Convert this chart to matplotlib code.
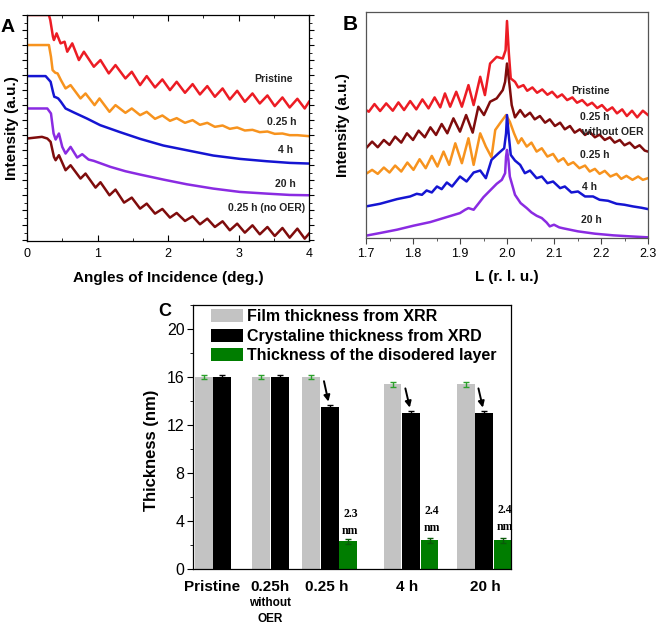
import matplotlib
matplotlib.use('Agg')
import matplotlib.pyplot as plt
from matplotlib.ticker import MultipleLocator, FixedLocator, FormatStrFormatter
from matplotlib.patches import Patch
import numpy as np

plt.rcParams['font.family'] = ['Liberation Sans', 'DejaVu Sans']

# ---------------- Panel A data (angle in deg, intensity in a.u., offset curves) -------------
a_pristine_x = [0, 0.311, 0.330, 0.368, 0.382, 0.420, 0.476, 0.533, 0.571, 0.642,
                0.736, 0.807, 0.948, 1.042, 1.160, 1.255, 1.396, 1.486, 1.604, 1.698,
                1.816, 1.920, 2.028, 2.123, 2.241, 2.349, 2.453, 2.557, 2.665, 2.774,
                2.877, 2.981, 3.090, 3.198, 3.302, 3.410, 3.514, 3.623, 3.726, 3.835,
                3.939, 4.000]
a_pristine_y = [677, 677, 662, 612, 602, 622, 592, 597, 567, 592,
                542, 567, 522, 542, 502, 527, 487, 507, 467, 494,
                460, 484, 452, 477, 444, 470, 439, 464, 432, 457,
                424, 450, 417, 442, 412, 436, 404, 430, 400, 426,
                397, 417]

a_025_x = [0, 0.311, 0.340, 0.363, 0.401, 0.434, 0.481, 0.547, 0.618, 0.759,
           0.830, 0.958, 1.028, 1.170, 1.255, 1.396, 1.486, 1.604, 1.698, 1.816,
           1.920, 2.028, 2.123, 2.241, 2.349, 2.453, 2.557, 2.665, 2.774, 2.877,
           2.981, 3.090, 3.198, 3.302, 3.410, 3.514, 3.623, 3.726, 3.835, 4.000]
a_025_y = [587, 587, 552, 512, 504, 502, 482, 457, 467, 427,
           442, 407, 427, 387, 407, 384, 397, 377, 387, 366,
           376, 360, 368, 354, 362, 348, 354, 342, 346, 336,
           340, 331, 333, 326, 328, 321, 322, 317, 317, 314]

a_4h_x = [0, 0.264, 0.335, 0.368, 0.387, 0.415, 0.443, 0.481, 0.547, 0.665,
          0.849, 1.038, 1.321, 1.604, 1.934, 2.264, 2.642, 3.019, 3.396, 3.726, 4.000]
a_4h_y = [494, 494, 477, 447, 432, 430, 427, 417, 397, 385,
          367, 347, 326, 306, 286, 272, 256, 246, 239, 234, 232]

a_20h_x = [0, 0.288, 0.340, 0.377, 0.406, 0.453, 0.500, 0.547, 0.618, 0.712,
           0.783, 0.873, 0.948, 1.184, 1.396, 1.604, 1.934, 2.264, 2.642, 3.019,
           3.396, 3.726, 4.000]
a_20h_y = [397, 397, 382, 322, 304, 322, 282, 262, 282, 250,
           260, 244, 240, 222, 209, 199, 184, 170, 157, 147,
           142, 138, 137]

a_noOER_x = [0, 0.212, 0.288, 0.335, 0.382, 0.406, 0.453, 0.547, 0.618, 0.759,
             0.830, 0.972, 1.042, 1.170, 1.255, 1.377, 1.486, 1.604, 1.698, 1.816,
             1.920, 2.028, 2.123, 2.241, 2.349, 2.453, 2.557, 2.665, 2.774, 2.877,
             2.981, 3.090, 3.198, 3.302, 3.410, 3.514, 3.623, 3.726, 3.835, 3.939,
             4.000]
a_noOER_y = [307, 312, 307, 297, 252, 242, 257, 212, 227, 187,
             202, 160, 176, 137, 154, 115, 130, 97, 112, 82,
             96, 70, 84, 60, 74, 50, 67, 42, 59, 32,
             52, 25, 47, 20, 42, 15, 39, 10, 37, 7,
             22]

a_labels = ['Pristine', '0.25 h', '4 h', '20 h', '0.25 h (no OER)']
a_label_x = [3.50, 3.62, 3.67, 3.66, 3.40]
a_label_y = [485, 357, 274, 172, 100]

# ---------------- Panel B data (L in r.l.u., intensity in a.u., offset curves) -------------
b_pristine_x = [1.700, 1.706, 1.718, 1.730, 1.743, 1.757, 1.769, 1.781, 1.794, 1.807,
                1.820, 1.833, 1.846, 1.858, 1.868, 1.879, 1.892, 1.904, 1.918, 1.929,
                1.943, 1.953, 1.964, 1.978, 1.991, 1.997, 2.000, 2.004, 2.008, 2.017,
                2.024, 2.035, 2.043, 2.054, 2.064, 2.075, 2.086, 2.096, 2.107, 2.117,
                2.128, 2.139, 2.149, 2.160, 2.171, 2.181, 2.192, 2.202, 2.213, 2.224,
                2.234, 2.245, 2.255, 2.266, 2.277, 2.289, 2.300]
b_pristine_y = [385, 380, 403, 382, 405, 383, 408, 385, 412, 387,
                417, 390, 423, 393, 435, 395, 440, 395, 460, 400,
                485, 430, 525, 545, 540, 565, 653, 555, 480, 470,
                453, 460, 443, 453, 437, 447, 431, 440, 423, 432,
                415, 423, 407, 415, 399, 407, 391, 400, 383, 393,
                375, 387, 367, 383, 363, 383, 370]

b_noOER_x = [1.700, 1.713, 1.725, 1.738, 1.750, 1.762, 1.775, 1.787, 1.800, 1.812,
             1.825, 1.837, 1.849, 1.861, 1.873, 1.886, 1.900, 1.913, 1.927, 1.939,
             1.951, 1.964, 1.978, 1.991, 1.996, 2.000, 2.005, 2.010, 2.017, 2.028,
             2.038, 2.049, 2.059, 2.070, 2.081, 2.091, 2.102, 2.113, 2.123, 2.134,
             2.144, 2.155, 2.166, 2.176, 2.187, 2.197, 2.208, 2.219, 2.229, 2.240,
             2.250, 2.261, 2.272, 2.282, 2.293, 2.300]
b_noOER_y = [270, 290, 273, 295, 280, 305, 287, 315, 295, 323,
             303, 333, 310, 343, 315, 360, 320, 370, 317, 395,
             370, 410, 420, 445, 470, 525, 465, 400, 363, 385,
             365, 377, 357, 367, 347, 357, 337, 347, 327, 337,
             317, 327, 310, 319, 303, 311, 295, 303, 287, 295,
             279, 287, 271, 279, 263, 260]

b_025_x = [1.700, 1.713, 1.725, 1.738, 1.750, 1.762, 1.775, 1.788, 1.801, 1.814,
           1.827, 1.840, 1.852, 1.865, 1.877, 1.890, 1.904, 1.918, 1.929, 1.943,
           1.955, 1.967, 1.975, 1.985, 1.998, 2.006, 2.015, 2.024, 2.031, 2.042,
           2.052, 2.063, 2.074, 2.086, 2.098, 2.109, 2.120, 2.130, 2.141, 2.154,
           2.166, 2.176, 2.187, 2.197, 2.208, 2.220, 2.233, 2.243, 2.254, 2.267,
           2.279, 2.289, 2.300]
b_025_y = [193, 205, 193, 212, 197, 218, 200, 227, 205, 237,
           210, 247, 215, 260, 220, 285, 225, 300, 220, 315,
           275, 243, 325, 345, 370, 350, 315, 285, 300, 275,
           287, 260, 270, 245, 253, 230, 240, 220, 228, 210,
           218, 200, 208, 193, 202, 185, 193, 178, 187, 175,
           185, 175, 180]

b_4h_x = [1.700, 1.730, 1.766, 1.794, 1.808, 1.819, 1.829, 1.840, 1.851, 1.861,
          1.872, 1.883, 1.900, 1.914, 1.929, 1.943, 1.955, 1.967, 1.982, 1.994,
          1.998, 2.000, 2.004, 2.008, 2.017, 2.028, 2.038, 2.049, 2.063, 2.074,
          2.086, 2.098, 2.113, 2.123, 2.137, 2.151, 2.166, 2.183, 2.197, 2.215,
          2.233, 2.250, 2.268, 2.286, 2.300]
b_4h_y = [95, 103, 117, 125, 133, 130, 143, 137, 155, 147,
          167, 155, 185, 170, 197, 203, 180, 235, 255, 270,
          315, 370, 305, 250, 233, 220, 195, 203, 180, 185,
          165, 170, 150, 155, 137, 140, 125, 125, 115, 112,
          103, 100, 95, 91, 87]

b_20h_x = [1.700, 1.730, 1.766, 1.801, 1.837, 1.865, 1.900, 1.911, 1.918, 1.929,
           1.939, 1.950, 1.964, 1.978, 1.989, 1.996, 1.998, 2.000, 2.003, 2.006,
           2.017, 2.029, 2.042, 2.052, 2.063, 2.074, 2.084, 2.091, 2.100, 2.111,
           2.120, 2.151, 2.187, 2.226, 2.261, 2.300]
b_20h_y = [7, 15, 25, 37, 48, 60, 75, 85, 90, 85,
           103, 123, 143, 163, 175, 195, 245, 265, 235, 185,
           130, 105, 90, 77, 67, 60, 47, 35, 40, 32,
           29, 20, 13, 8, 5, 2]

b_labels = ['Pristine', '0.25 h', 'without OER', '0.25 h', '4 h', '20 h']
b_label_x = [2.178, 2.187, 2.225, 2.187, 2.176, 2.180]
b_label_y = [442, 364, 319, 250, 154, 55]

# ---------------- Panel C data ----------------
c_groups = ['Pristine', '0.25h', '0.25 h', '4 h', '20 h']
xrr_thick = [16.0, 16.0, 16.0, 15.4, 15.4]
xrd_thick = [16.0, 16.0, 13.5, 13.0, 13.0]
dis_thick = [np.nan, np.nan, 2.3, 2.4, 2.4]
xrr_err = [0.2, 0.2, 0.2, 0.2, 0.2]
xrd_err = [0.2, 0.2, 0.2, 0.2, 0.2]
dis_err = [0.0, 0.0, 0.2, 0.2, 0.2]
dis_text = ['', '', '2.3', '2.4', '2.4']
group_left = [0.1, 3.2, 5.9, 10.3, 14.25]
label_x = [1.03, 4.16, 7.24, 11.57, 15.78]

# ---------------- colours ----------------
RED = '#ec1c24'
ORANGE = '#f7931e'
BLUE = '#1515d2'
PURPLE = '#8a2be2'
DRED = '#7f0c0c'

W, H = 659, 627
fig = plt.figure(figsize=(W / 100, H / 100), dpi=100)


def px_axes(l, t, r, b):
    return fig.add_axes([l / W, 1 - b / H, (r - l) / W, (b - t) / H])


axA = px_axes(27, 15, 309, 241)
axB = px_axes(366, 12, 648, 238)
axC = px_axes(193, 305, 511, 569)

# ---------------- Panel A ----------------
lw = 1.8
axA.plot(a_pristine_x, a_pristine_y, color=RED, lw=lw)
axA.plot(a_025_x, a_025_y, color=ORANGE, lw=lw)
axA.plot(a_4h_x, a_4h_y, color=BLUE, lw=lw)
axA.plot(a_20h_x, a_20h_y, color=PURPLE, lw=lw)
axA.plot(a_noOER_x, a_noOER_y, color=DRED, lw=lw)
for t, x, y in zip(a_labels, a_label_x, a_label_y):
    axA.text(x, y, t, fontsize=7.5, fontweight='bold', ha='center', va='center', color='#222222')
axA.set_xlim(0, 4)
axA.set_ylim(0, 677)
axA.xaxis.set_major_locator(MultipleLocator(1))
axA.xaxis.set_minor_locator(MultipleLocator(0.5))
axA.yaxis.set_major_locator(FixedLocator(np.arange(677, 0, -45)))
axA.yaxis.set_minor_locator(FixedLocator(np.arange(654.5, 0, -45)))
axA.tick_params(axis='x', which='both', direction='in', top=True, labelsize=9, pad=5)
axA.tick_params(axis='x', which='major', length=4)
axA.tick_params(axis='x', which='minor', length=2.5)
axA.tick_params(axis='y', which='both', direction='out', left=True, right=True, labelleft=False)
axA.tick_params(axis='y', which='major', length=3.5)
axA.tick_params(axis='y', which='minor', length=2)
for s in axA.spines.values():
    s.set_linewidth(0.9)
axA.set_xlabel('Angles of Incidence (deg.)', fontsize=11, fontweight='bold')
axA.xaxis.set_label_coords(0.5, -0.164)
axA.xaxis.label.set_va('center')
axA.set_ylabel('Intensity (a.u.)', fontsize=11, fontweight='bold')
axA.yaxis.set_label_coords(-0.053, 0.5)
axA.yaxis.label.set_va('center')

# ---------------- Panel B ----------------
axB.plot(b_pristine_x, b_pristine_y, color=RED, lw=lw)
axB.plot(b_noOER_x, b_noOER_y, color=DRED, lw=lw)
axB.plot(b_025_x, b_025_y, color=ORANGE, lw=lw)
axB.plot(b_4h_x, b_4h_y, color=BLUE, lw=lw)
axB.plot(b_20h_x, b_20h_y, color=PURPLE, lw=lw)
for t, x, y in zip(b_labels, b_label_x, b_label_y):
    axB.text(x, y, t, fontsize=7.5, fontweight='bold', ha='center', va='center', color='#222222')
axB.set_xlim(1.7, 2.3)
axB.set_ylim(0, 680)
axB.xaxis.set_major_locator(MultipleLocator(0.1))
axB.xaxis.set_minor_locator(MultipleLocator(0.05))
axB.xaxis.set_major_formatter(FormatStrFormatter('%.1f'))
axB.set_yticks([])
axB.tick_params(axis='x', which='both', direction='out', labelsize=9, pad=3, color='#444444')
axB.tick_params(axis='x', which='major', length=4)
axB.tick_params(axis='x', which='minor', length=2.5)
for s in axB.spines.values():
    s.set_linewidth(0.9)
    s.set_color('#555555')
axB.set_xlabel('L (r. l. u.)', fontsize=11, fontweight='bold')
axB.xaxis.set_label_coords(0.5, -0.173)
axB.xaxis.label.set_va('center')
axB.set_ylabel('Intensity (a.u.)', fontsize=11, fontweight='bold')
axB.yaxis.set_label_coords(-0.081, 0.5)
axB.yaxis.label.set_va('center')

# ---------------- Panel C ----------------
bw = 0.97
gl = np.array(group_left)
axC.bar(gl, xrr_thick, width=bw, align='edge', color='#c3c3c3', zorder=2)
axC.bar(gl + 1, xrd_thick, width=bw, align='edge', color='#000000', zorder=2)
axC.bar(gl + 2, dis_thick, width=bw, align='edge', color='#007d00', zorder=2)
axC.errorbar(gl + bw / 2, xrr_thick, yerr=xrr_err, fmt='none', ecolor='#2ca02c',
             elinewidth=1, capsize=2.5, capthick=1, zorder=3)
axC.errorbar(gl + 1 + bw / 2, xrd_thick, yerr=xrd_err, fmt='none', ecolor='#000000',
             elinewidth=1, capsize=2.5, capthick=1, zorder=3)
dmask = ~np.isnan(np.array(dis_thick))
axC.errorbar((gl + 2 + bw / 2)[dmask], np.array(dis_thick)[dmask], yerr=np.array(dis_err)[dmask],
             fmt='none', ecolor='#0a5a0a', elinewidth=1, capsize=2.5, capthick=1, zorder=3)
for i in range(len(c_groups)):
    if dis_text[i]:
        xc = gl[i] + 2 + bw / 2 + 0.12
        axC.text(xc, dis_thick[i] + 2.3 + 0.1 * (i - 2), dis_text[i], family='Liberation Serif',
                 fontweight='bold', fontsize=8.5, ha='center', va='center')
        axC.text(xc, dis_thick[i] + 0.9 + 0.1 * (i - 2), 'nm', family='Liberation Serif',
                 fontweight='bold', fontsize=8.5, ha='center', va='center')
        axC.annotate('', xy=(gl[i] + 1.42, xrd_thick[i] + 0.45),
                     xytext=(gl[i] + 1.18, xrr_thick[i] - 0.35),
                     arrowprops=dict(arrowstyle='-|>', color='k', lw=1.4, mutation_scale=9,
                                     shrinkA=0, shrinkB=0), zorder=4)
axC.set_xlim(0, 17.19)
axC.set_ylim(0, 22)
axC.yaxis.set_major_locator(MultipleLocator(4))
axC.yaxis.set_minor_locator(MultipleLocator(2))
axC.tick_params(axis='y', which='both', direction='out', labelsize=11.5, pad=2)
axC.tick_params(axis='y', which='major', length=4)
axC.tick_params(axis='y', which='minor', length=2)
axC.set_xticks(label_x)
axC.set_xticklabels(c_groups, fontsize=11, fontweight='bold')
axC.tick_params(axis='x', length=0, pad=8)
axC.text(label_x[1], -0.129, 'without', transform=axC.get_xaxis_transform(),
         fontsize=8.5, fontweight='bold', ha='center', va='center')
axC.text(label_x[1], -0.19, 'OER', transform=axC.get_xaxis_transform(),
         fontsize=8.5, fontweight='bold', ha='center', va='center')
for s in axC.spines.values():
    s.set_linewidth(0.9)
axC.set_ylabel('Thickness (nm)', fontsize=12, fontweight='bold')
axC.yaxis.set_label_coords(-0.132, 0.45)
axC.yaxis.label.set_va('center')
handles = [Patch(facecolor='#c3c3c3'), Patch(facecolor='#000000'), Patch(facecolor='#007d00')]
axC.legend(handles, ['Film thickness from XRR', 'Crystaline thickness from XRD',
                     'Thickness of the disodered layer'],
           loc='upper left', bbox_to_anchor=(0.058, 0.985), frameon=False,
           prop={'weight': 'bold', 'size': 11.5}, handlelength=1.95, handleheight=0.9,
           handletextpad=0.3, labelspacing=0.28, borderpad=0, borderaxespad=0)

# panel letters
fig.text(8 / W, 1 - 28 / H, 'A', fontsize=14, fontweight='bold', ha='center', va='center')
fig.text(350 / W, 1 - 25 / H, 'B', fontsize=15, fontweight='bold', ha='center', va='center')
fig.text(165 / W, 1 - 312 / H, 'C', fontsize=13, fontweight='bold', ha='center', va='center')

fig.savefig('out.png', dpi=100)
